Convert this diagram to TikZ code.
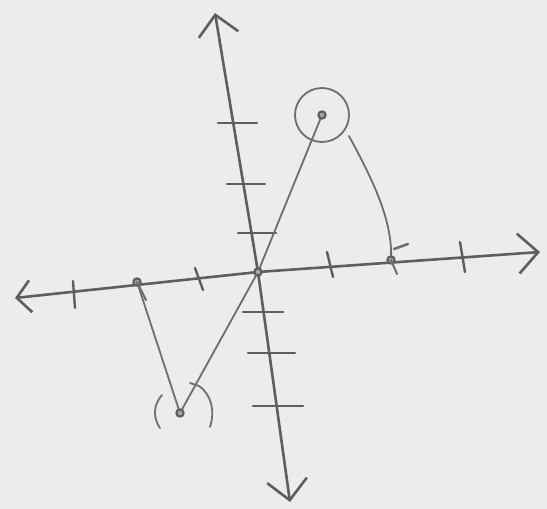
\documentclass[tikz,border=0pt]{standalone}
\usepackage{xcolor}
\usepackage{tikz}
\usetikzlibrary{arrows.meta}
\definecolor{paper}{HTML}{ECECEC}
\definecolor{pencil}{HTML}{5E5E5E}
\definecolor{lightpencil}{HTML}{6E6E6E}

\begin{document}
\begin{tikzpicture}[x=1pt,y=-1pt,line cap=round,line join=round,
  axisline/.style={pencil,line width=2.6pt},
  tickmark/.style={pencil,line width=2.4pt},
  graphline/.style={lightpencil,line width=1.8pt},
  plotdot/.style={pencil,line width=2.2pt,fill=pencil!55},
  barb/.tip={Straight Barb[length=20pt,width=40pt]}]
\fill[paper] (0,0) rectangle (547,509);
\useasboundingbox (0,0) rectangle (547,509);
% axes
\coordinate (xl) at (15,298);
\coordinate (O) at (258,272);
\coordinate (xr) at (540,252);
\coordinate (yt) at (215,13);
\coordinate (yb) at (290,502);
\draw[axisline,{Straight Barb[length=14pt,width=32pt]}-barb] (xl)--(O)--(xr);
\draw[axisline,barb-barb] (yt)--(O)--(yb);
% ticks on x
\foreach \x/\ya/\xb/\yb in {73/281/75/308,195/268/203/290,327/252/333/277,460/242/465/272}{\draw[tickmark] (\x,\ya)--(\xb,\yb);}
% ticks on y
\foreach \xa/\xb/\y in {218/257/123,227/265/184,238/276/233,243/283/312,248/295/353,253/303/406}{\draw[tickmark] (\xa,\y)--(\xb,\y);}
% points of the graph
\coordinate (L) at (137,282);
\coordinate (M) at (180,413);
\coordinate (P) at (322,115);
\coordinate (R) at (391,260);
\draw[graphline] (L)--(M)--(O)--(P);
\draw[graphline] (349,136) .. controls (374,182) and (393,222) .. (R);
\draw[graphline] (P) ellipse (27pt and 27pt);
\foreach \p in {L,M,O,P,R}{\draw[plotdot] (\p) circle (3.6pt);}
\draw[graphline,line width=2.2pt] (L)--(146,300);
\draw[graphline,line width=2.6pt] (394,249)--(408,244);
\draw[graphline,line width=2pt] (R)--(397,274);
% brackets at the minimum
\draw[graphline] (162,395) .. controls (153,405) and (153,418) .. (160,428);
\draw[graphline] (190,383)--(199,386) .. controls (212,395) and (215,412) .. (210,427);
\end{tikzpicture}
\end{document}
